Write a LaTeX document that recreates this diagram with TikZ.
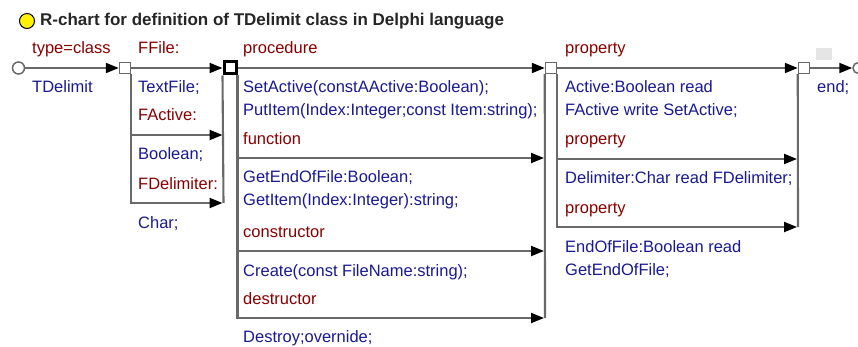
\documentclass[tikz,border=0pt]{standalone}
\usepackage{fontspec}
\setmainfont{Liberation Sans}
\usetikzlibrary{arrows.meta}
\definecolor{kwred}{RGB}{135,0,0}
\definecolor{idblue}{RGB}{25,25,145}
\definecolor{rgray}{RGB}{105,105,105}

\begin{document}
\begin{tikzpicture}[x=1pt,y=-1pt,
    rline/.style={draw=rgray,line width=2.1pt},
    rarrow/.style={rline,-{Triangle[length=13pt,width=10pt,color=black]}},
    rbox/.style={draw=rgray,fill=white,line width=1.5pt,minimum size=11pt,inner sep=0pt},
    rboxbold/.style={draw=black,fill=white,line width=3pt,minimum size=12pt,inner sep=0pt},
    kwtxt/.style={text=kwred,anchor=base west,inner sep=0pt,font=\fontsize{16.5}{19}\selectfont},
    idtxt/.style={text=idblue,anchor=base west,inner sep=0pt,font=\fontsize{16.5}{19}\selectfont}]
    \useasboundingbox (0,0) rectangle (858,347);

    \node[circle,draw=black,fill=yellow,line width=1pt,minimum size=15pt,inner sep=0pt] (dot) at (27,21) {};
    \node[anchor=base west,inner sep=0pt,text=black!85,font=\bfseries\fontsize{17}{20}\selectfont] (title) at (40,26)
    {R-chart for definition of TDelimit class in Delphi language};

    \coordinate (s1b) at (131,135);
    \coordinate (j1b) at (222.5,135);
    \coordinate (j1c) at (223.5,203);
    \coordinate (s2b) at (236,158);
    \coordinate (j2b) at (544,158);
    \coordinate (s2c) at (236,251);
    \coordinate (j2c) at (544,251);
    \coordinate (j2d) at (545,318);
    \coordinate (s3b) at (557,159);
    \coordinate (j3b) at (797,159);
    \coordinate (j3c) at (798,227);

    \node[circle,draw=rgray,fill=white,line width=1.5pt,minimum size=12pt,inner sep=0pt] (start) at (18.5,68) {};
    \node[circle,draw=rgray,fill=white,line width=1.5pt,minimum size=11pt,inner sep=0pt] (fin) at (858.5,68) {};
    \fill[black!10] (816,48) rectangle (832,60);

    \node[rbox] (b1) at (125,68) {};
    \node[rboxbold] (b2) at (230,68) {};
    \node[rbox] (b3) at (551,68) {};
    \node[rbox] (b4) at (804,68) {};

    \draw[rarrow] (start) -- (b1);
    \draw[rarrow] (b1) -- (b2);
    \draw[rarrow] (b2) -- (b3);
    \draw[rarrow] (b3) -- (b4);
    \draw[rarrow] (b4) -- (fin);

    \draw[rarrow] (b1.south east) |- ([xshift=-1pt]j1c);
    \draw[rarrow] (s1b) -- (j1b);
    \draw[rline] (b2.south west) -- (j1c);

    \draw[rarrow] (b2.south east) |- ([xshift=-1pt]j2d);
    \draw[rarrow] (s2b) -- (j2b);
    \draw[rarrow] (s2c) -- (j2c);
    \draw[rline] (b3.south west) -- (j2d);

    \draw[rarrow] (b3.south east) |- ([xshift=-1pt]j3c);
    \draw[rarrow] (s3b) -- (j3b);
    \draw[rline] (b4.south west) -- (j3c);

    \node[rbox] at (b1) {};
    \node[rboxbold] at (b2) {};
    \node[rbox] at (b3) {};
    \node[rbox] at (b4) {};

    \node[kwtxt] (kclass) at (32,54) {type=class};
    \node[idtxt] (tdelim) at (32,93) {TDelimit};

    \node[kwtxt] (kffile) at (138,54) {FFile:};
    \node[idtxt] (ttext) at (138,93) {TextFile;};
    \node[kwtxt] (kfact) at (138,121) {FActive:};
    \node[idtxt] (tbool) at (138,160) {Boolean;};
    \node[kwtxt] (kfdel) at (138,190) {FDelimiter:};
    \node[idtxt] (tchar) at (138,228) {Char;};

    \node[kwtxt] (kproc) at (243,54) {procedure};
    \node[idtxt] (tset) at (243,93) {SetActive(constAActive:Boolean);};
    \node[idtxt] (tput) at (243,116) {PutItem(Index:Integer;const Item:string);};
    \node[kwtxt] (kfunc) at (243,145) {function};
    \node[idtxt] (tgeteof) at (243,183) {GetEndOfFile:Boolean;};
    \node[idtxt] (tgetitem) at (243,206) {GetItem(Index:Integer):string;};
    \node[kwtxt] (kcons) at (243,237) {constructor};
    \node[idtxt] (tcreate) at (243,276) {Create(const FileName:string);};
    \node[kwtxt] (kdest) at (243,304) {destructor};
    \node[idtxt] (tdestroy) at (243,342) {Destroy;overnide;};

    \node[kwtxt] (kprop1) at (565,54) {property};
    \node[idtxt] (tact1) at (565,93) {Active:Boolean read};
    \node[idtxt] (tact2) at (565,116) {FActive write SetActive;};
    \node[kwtxt] (kprop2) at (565,145) {property};
    \node[idtxt] (tdel) at (565,184) {Delimiter:Char read FDelimiter;};
    \node[kwtxt] (kprop3) at (565,214) {property};
    \node[idtxt] (teof1) at (565,252) {EndOfFile:Boolean read};
    \node[idtxt] (teof2) at (565,275) {GetEndOfFile;};

    \node[idtxt] (tend) at (817,93) {end;};
  \end{tikzpicture}
\end{document}
